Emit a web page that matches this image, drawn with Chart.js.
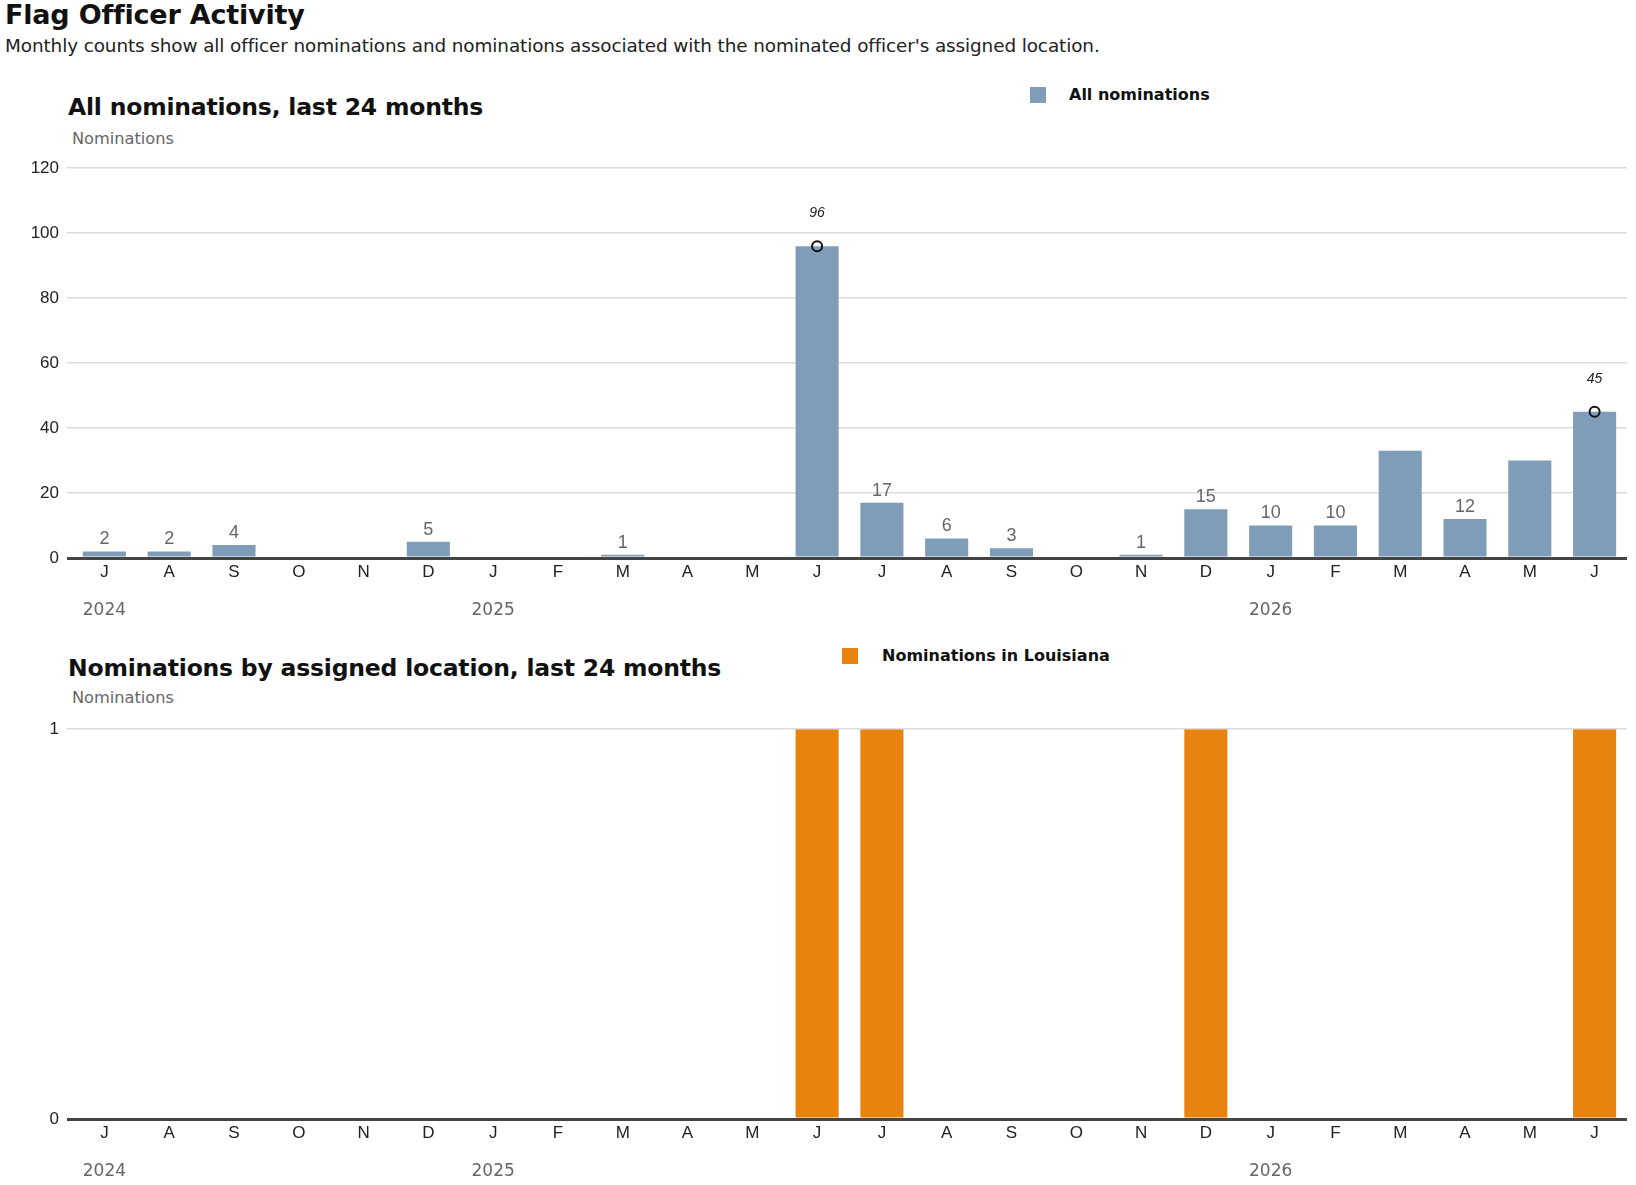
<!DOCTYPE html>
<html>
<head>
<meta charset="utf-8">
<script src="https://cdn.jsdelivr.net/npm/chart.js@4.4.1/dist/chart.umd.min.js"></script>
<style>
  html, body { margin: 0; padding: 0; background: #fff; overflow: hidden; }
  body { width: 1636px; height: 1185px; position: relative; font-family: "DejaVu Sans", "Liberation Sans", sans-serif; color: #111; }
  .abs { position: absolute; white-space: nowrap; }
  h1 { position: absolute; left: 5px; top: -1px; margin: 0; font-size: 27px; font-weight: bold; letter-spacing: -0.2px; }
  .sub { left: 5px; top: 35px; font-size: 18.4px; color: #222; letter-spacing: -0.1px; }
  .ctitle { font-size: 23.5px; font-weight: bold; letter-spacing: -0.2px; }
  .axis { font-size: 16.2px; color: #666; }
  .key { font-size: 16px; font-weight: bold; }
  .swatch { position: absolute; width: 16px; height: 16px; }
  canvas { position: absolute; left: 0; }
</style>
</head>
<body>
<h1>Flag Officer Activity</h1>
<div class="abs sub">Monthly counts show all officer nominations and nominations associated with the nominated officer's assigned location.</div>

<div class="abs ctitle" style="left:68px; top:93px;">All nominations, last 24 months</div>
<div class="swatch" style="left:1030px; top:87px; background:#7f9db9;"></div>
<div class="abs key" style="left:1069px; top:85px;">All nominations</div>
<div class="abs axis" style="left:72px; top:129px;">Nominations</div>
<canvas id="allChart" width="1636" height="478" style="top:150px;"></canvas>

<div class="abs ctitle" style="left:68px; top:654px;">Nominations by assigned location, last 24 months</div>
<div class="swatch" style="left:842px; top:648px; background:#e8830e;"></div>
<div class="abs key" style="left:882px; top:646px;">Nominations in Louisiana</div>
<div class="abs axis" style="left:72px; top:688px;">Nominations</div>
<canvas id="stateChart" width="1636" height="478" style="top:711px;"></canvas>

<script>
// Jul 2024 - Jun 2026
const months = ['J', 'A', 'S', 'O', 'N', 'D', 'J', 'F', 'M', 'A', 'M', 'J',
                'J', 'A', 'S', 'O', 'N', 'D', 'J', 'F', 'M', 'A', 'M', 'J'];
const years = ['2024', '', '', '', '', '', '2025', '', '', '', '', '',
               '', '', '', '', '', '', '2026', '', '', '', '', ''];
const allNominations = [2, 2, 4, 0, 0, 5, 0, 0, 1, 0, 0, 96,
                        17, 6, 3, 0, 1, 15, 10, 10, 33, 12, 30, 45];
const louisiana = [0, 0, 0, 0, 0, 0, 0, 0, 0, 0, 0, 1,
                   1, 0, 0, 0, 0, 1, 0, 0, 0, 0, 0, 1];
// months with a circled callout, and months whose value label is left off
const highlighted = [11, 23];
const unlabeled = [20, 22];

Chart.defaults.font.family = '"Liberation Sans", Arial, sans-serif';
Chart.defaults.animation = false;

// value labels above the bars
const barLabels = {
    id: 'barLabels',
    afterDatasetsDraw(chart, args, opts) {
        if (!opts.show) return;
        const ctx = chart.ctx;
        const meta = chart.getDatasetMeta(1);
        ctx.save();
        ctx.textAlign = 'center';
        ctx.textBaseline = 'middle';
        meta.data.forEach((bar, i) => {
            const v = allNominations[i];
            if (!v) return;
            if (highlighted.includes(i)) {
                ctx.font = 'italic 14px "Liberation Sans Narrow", "Liberation Sans", sans-serif';
                ctx.fillStyle = '#222';
                ctx.fillText(v, bar.x, bar.y - 33);
            } else if (!unlabeled.includes(i)) {
                ctx.font = '18px "Liberation Sans", sans-serif';
                ctx.fillStyle = '#666';
                ctx.fillText(v, bar.x, bar.y - 12);
            }
        });
        ctx.restore();
    }
};

function makeScales(yMax, yStep) {
    return {
        x: {
            offset: true,
            grid: { display: false, drawTicks: false },
            border: { display: false },
            ticks: { color: '#222', font: { size: 17 }, padding: 4, maxRotation: 0, autoSkip: false },
            afterFit: s => { s.height = 30; }
        },
        year: {
            type: 'category',
            labels: years,
            position: 'bottom',
            offset: true,
            grid: { display: false, drawTicks: false },
            border: { display: false },
            ticks: { color: '#666', font: { size: 17, family: '"DejaVu Sans", sans-serif' }, padding: 12, maxRotation: 0, autoSkip: false },
            afterFit: s => { s.height = 40; }
        },
        y: {
            min: 0,
            max: yMax,
            border: { display: false },
            grid: {
                color: c => c.tick && c.tick.value === 0 ? '#444' : '#dcdcdc',
                lineWidth: c => c.tick && c.tick.value === 0 ? 3 : 1.5,
                tickColor: c => c.tick && c.tick.value === 0 ? '#444' : '#dcdcdc',
                tickWidth: c => c.tick && c.tick.value === 0 ? 3 : 1.5,
                tickLength: 5
            },
            ticks: { stepSize: yStep, color: '#222', font: { size: 17 }, padding: 8 },
            afterFit: s => { s.width = 72; }
        }
    };
}

new Chart(document.getElementById('allChart'), {
    type: 'bar',
    data: {
        labels: months,
        datasets: [{
            type: 'line',
            data: allNominations.map((v, i) => highlighted.includes(i) ? v : null),
            showLine: false,
            pointRadius: 5,
            pointBorderWidth: 2,
            pointBorderColor: '#111',
            pointBackgroundColor: 'rgba(0,0,0,0)',
            order: 0
        }, {
            label: 'All nominations',
            data: allNominations,
            backgroundColor: '#7f9db9',
            barPercentage: 0.665,
            categoryPercentage: 1,
            order: 1
        }]
    },
    options: {
        responsive: false,
        layout: { padding: { top: 16, right: 9, left: 0, bottom: 0 } },
        plugins: { legend: { display: false }, tooltip: { enabled: false }, barLabels: { show: true } },
        scales: makeScales(120, 20)
    },
    plugins: [barLabels]
});

new Chart(document.getElementById('stateChart'), {
    type: 'bar',
    data: {
        labels: months,
        datasets: [{
            label: 'Nominations in Louisiana',
            data: louisiana,
            backgroundColor: '#e8830e',
            barPercentage: 0.665,
            categoryPercentage: 1
        }]
    },
    options: {
        responsive: false,
        layout: { padding: { top: 16, right: 9, left: 0, bottom: 0 } },
        plugins: { legend: { display: false }, tooltip: { enabled: false } },
        scales: makeScales(1, 1)
    }
});
</script>
</body>
</html>
